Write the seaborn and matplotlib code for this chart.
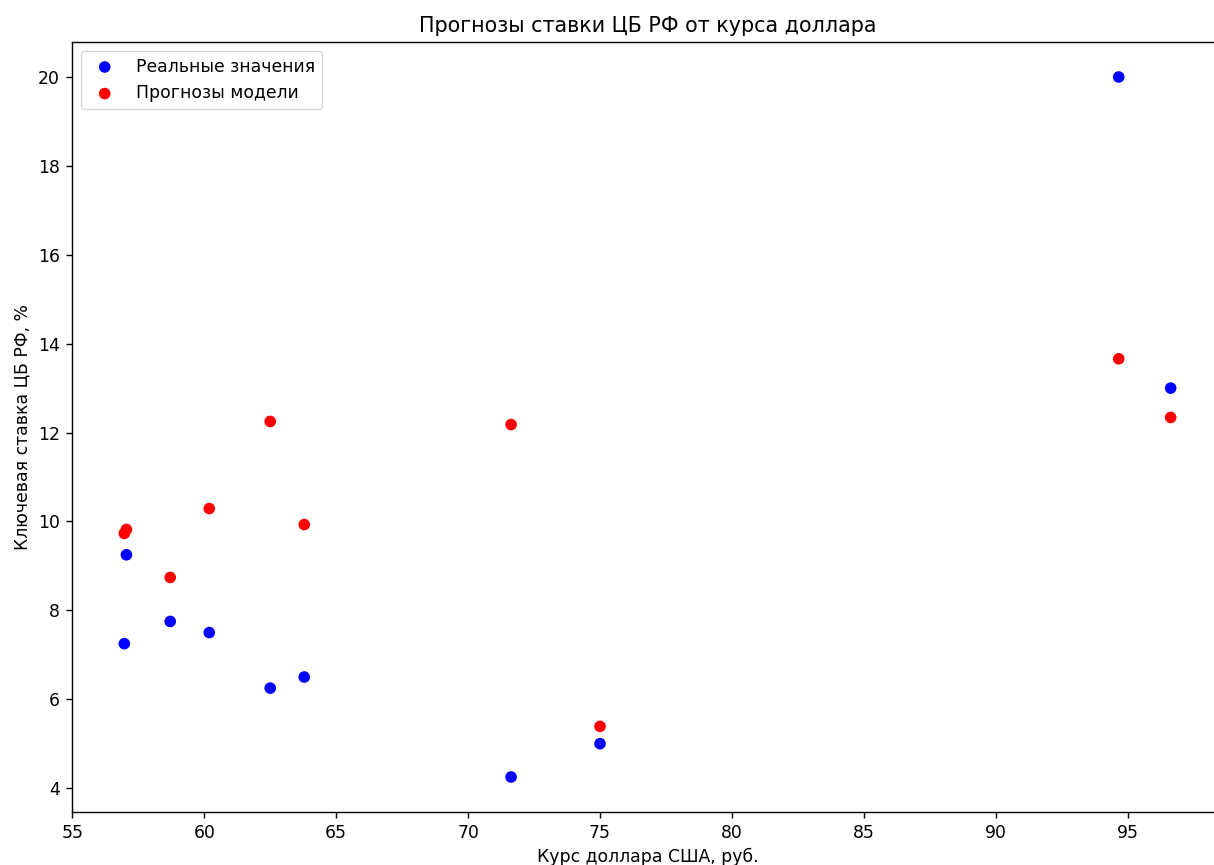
import matplotlib
matplotlib.use("Agg")
import matplotlib.pyplot as plt
import seaborn as sns

# курс доллара и ставки ЦБ
usd_rate = [56.97, 57.05, 58.71, 60.19, 62.50, 63.79, 71.63, 75.00, 94.66, 96.63]
real_rate = [7.25, 9.25, 7.75, 7.5, 6.25, 6.5, 4.25, 5.0, 20.0, 13.0]
predicted_rate = [9.73, 9.82, 8.74, 10.29, 12.25, 9.93, 12.18, 5.39, 13.66, 12.34]

sns.set_style("white")
plt.rcParams['font.family'] = ['DejaVu Sans']
plt.rcParams['text.color'] = 'black'
plt.rcParams['axes.labelcolor'] = 'black'

fs = 12.4

fig = plt.figure(figsize=(12.14, 8.65), dpi=100)
ax = fig.add_axes([72 / 1214, (865 - 812) / 865, 1151 / 1214, (812 - 42) / 865])

sns.scatterplot(x=usd_rate, y=real_rate, color="blue", s=70, edgecolor="none",
                label="Реальные значения", ax=ax)
sns.scatterplot(x=usd_rate, y=predicted_rate, color="red", s=70, edgecolor="none",
                label="Прогнозы модели", ax=ax)

ax.set_title("Прогнозы ставки ЦБ РФ от курса доллара", fontsize=14.9, color="black", pad=7.5)
ax.set_xlabel("Курс доллара США, руб.", fontsize=fs, labelpad=4.5)
ax.set_ylabel("Ключевая ставка ЦБ РФ, %", fontsize=fs, labelpad=4.5)
ax.tick_params(axis="both", which="both", bottom=True, left=True, length=4.3,
               width=1.0, labelsize=fs, colors="black", pad=4.3)
for sp in ax.spines.values():
    sp.set_color("black")
    sp.set_linewidth(1.0)
ax.legend(loc="upper left", frameon=True, fontsize=fs)

fig.savefig("out.png", dpi=100)
